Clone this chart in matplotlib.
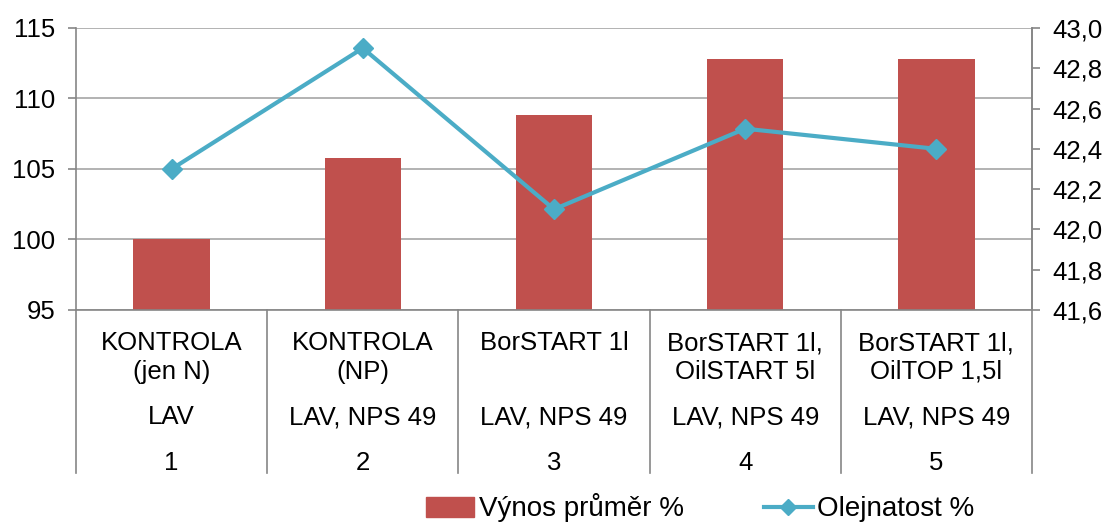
import matplotlib
matplotlib.use("Agg")
import matplotlib.pyplot as plt
from matplotlib.lines import Line2D
from matplotlib.patches import Patch

plt.rcParams['font.family'] = ['Liberation Sans', 'DejaVu Sans']

# ---- data ----
treatments = ["KONTROLA\n(jen N)", "KONTROLA\n(NP)", "BorSTART 1l",
              "BorSTART 1l,\nOilSTART 5l", "BorSTART 1l,\nOilTOP 1,5l"]
fertil = ["LAV", "LAV, NPS 49", "LAV, NPS 49", "LAV, NPS 49", "LAV, NPS 49"]
numbers = ["1", "2", "3", "4", "5"]
vynos = [100.0, 105.8, 108.8, 112.8, 112.8]
olej = [42.3, 42.9, 42.1, 42.5, 42.4]
left_ticks = [95, 100, 105, 110, 115]
right_ticks = [41.6, 41.8, 42.0, 42.2, 42.4, 42.6, 42.8, 43.0]

BAR_C = "#C0504D"
LINE_C = "#4BACC6"
GRID_C = "#A6A6A6"
AX_C = "#868686"
FS_TICK = 18.5
FS_CAT = 18.5
FS_LEG = 20

W, H = 1110, 524
fig = plt.figure(figsize=(W / 100, H / 100), dpi=100)
L, R, T, B = 76, 1032, 28, 310
ax = fig.add_axes([L / W, 1 - B / H, (R - L) / W, (B - T) / H])
x = list(range(len(vynos)))

ax.bar(x, vynos, width=0.4, color=BAR_C, zorder=2)
ax.set_ylim(95, 115)
ax.set_xlim(-0.5, 4.5)
ax.set_yticks(left_ticks)
ax.set_yticklabels([str(t) for t in left_ticks])
ax.yaxis.grid(True, color=GRID_C, lw=1.2)
ax.set_axisbelow(True)
ax.set_xticks([])
ax.spines["top"].set_visible(False)
for s in ["left", "bottom", "right"]:
    ax.spines[s].set_color(AX_C)
    ax.spines[s].set_linewidth(1.2)
ax.tick_params(axis='y', direction='out', length=6, width=1.2, color=AX_C,
               labelsize=FS_TICK, pad=9)

ax2 = ax.twinx()
ax2.plot(x, olej, color=LINE_C, lw=3, marker='D', ms=10, mec=LINE_C, mfc=LINE_C, zorder=3)
ax2.set_ylim(41.6, 43.0)
ax2.set_yticks(right_ticks)
ax2.set_yticklabels([f"{t:.1f}".replace('.', ',') for t in right_ticks])
ax2.tick_params(axis='y', direction='out', length=6, width=1.2, color=AX_C,
                labelsize=FS_TICK, pad=9)
for s in ["top", "left", "bottom"]:
    ax2.spines[s].set_visible(False)
ax2.spines["right"].set_color(AX_C)
ax2.spines["right"].set_linewidth(1.2)
ax2.set_xlim(-0.5, 4.5)

# multi-level category axis
ax_h = B - T
sep_y = -(473 - B) / ax_h
for xs in [i - 0.5 for i in range(len(vynos) + 1)]:
    ax.plot([xs, xs], [0, sep_y], transform=ax.get_xaxis_transform(),
            color=AX_C, lw=1.2, clip_on=False)

for i in x:
    ax.annotate(treatments[i], xy=(i, 0), xycoords=('data', 'axes fraction'),
                xytext=(0, -(331 - B)), textcoords='offset pixels',
                ha='center', va='top', fontsize=FS_CAT, linespacing=1.25)
    ax.annotate(fertil[i], xy=(i, 0), xycoords=('data', 'axes fraction'),
                xytext=(0, -(405 - B)), textcoords='offset pixels',
                ha='center', va='top', fontsize=FS_CAT)
    ax.annotate(numbers[i], xy=(i, 0), xycoords=('data', 'axes fraction'),
                xytext=(0, -(451 - B)), textcoords='offset pixels',
                ha='center', va='top', fontsize=FS_CAT)

handles = [Patch(color=BAR_C),
           Line2D([0], [0], color=LINE_C, lw=3, marker='D', ms=8)]
fig.legend(handles, ["Výnos průměr %", "Olejnatost %"], loc='center',
           bbox_to_anchor=(700 / W, 1 - 508 / H), ncol=2, frameon=False,
           fontsize=FS_LEG, handlelength=1.75, handletextpad=0.15,
           columnspacing=2.9, borderpad=0)

fig.savefig("out.png", dpi=100)
